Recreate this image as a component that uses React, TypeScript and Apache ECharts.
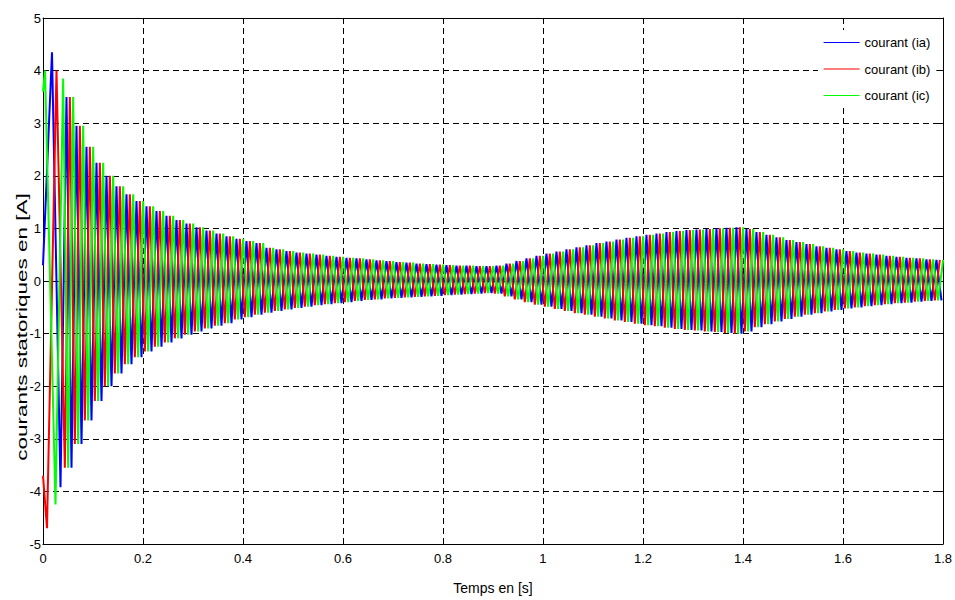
import React, { useEffect, useRef } from "react";
import * as echarts from "echarts";

// ---------- data ----------
const SERIES_NAMES = ["courant (ia)", "courant (ib)", "courant (ic)"];
const SERIES_COLORS = ["#0000ff", "#ff0000", "#00ff00"];

const X_TICKS = [0, 0.2, 0.4, 0.6, 0.8, 1, 1.2, 1.4, 1.6, 1.8];
const Y_TICKS = [-5, -4, -3, -2, -1, 0, 1, 2, 3, 4, 5];

// start-up transient extrema of each phase (time s, current A)
const iaStartTimes = [0, 0.018, 0.035];
const iaStartValues = [0.3, 4.35, -3.92];
const ibStartTimes = [0, 0.008, 0.027];
const ibStartValues = [-3.7, -4.7, 4.0];
const icStartTimes = [0, 0.004, 0.025, 0.0403];
const icStartValues = [3.6, 4.0, -4.25, 3.85];

// supply period (50 Hz) and first steady cycle start
const PERIOD = 0.02;
const CYCLE_START = 0.04;
// where, inside each cycle, each phase reaches its positive / negative peak (s)
const POS_PEAK_OFFSET = [0.007, 0.0137, 0.0203];
const NEG_PEAK_OFFSET = [0.017, 0.0037, 0.0103];

// positive peak of each 20 ms cycle (A), cycles centred at 0.05, 0.07, ... 1.79 s
const upperPeaks = [
  3.5, 2.95, 2.55, 2.25, 2.0, 1.8, 1.65, 1.52, 1.42, 1.33,
  1.24, 1.16, 1.09, 1.02, 0.96, 0.9, 0.85, 0.8, 0.76, 0.72,
  0.63, 0.6, 0.57, 0.54, 0.52, 0.5, 0.48, 0.46, 0.44, 0.43,
  0.41, 0.39, 0.38, 0.36, 0.35, 0.33, 0.32, 0.31, 0.3, 0.29,
  0.29, 0.28, 0.28, 0.29, 0.33, 0.38, 0.43, 0.48, 0.52, 0.56,
  0.6, 0.64, 0.68, 0.72, 0.75, 0.79, 0.82, 0.85, 0.88, 0.9,
  0.93, 0.95, 0.97, 0.98, 0.99, 1.0, 1.01, 1.02, 0.99, 0.93,
  0.88, 0.83, 0.78, 0.74, 0.7, 0.66, 0.63, 0.6, 0.57, 0.54,
  0.52, 0.5, 0.48, 0.46, 0.44, 0.43, 0.41, 0.4,
];
// negative peak of each cycle (A)
const lowerPeaks = [
  -3.55, -3.1, -2.65, -2.28, -2.0, -1.76, -1.58, -1.45, -1.34, -1.25,
  -1.17, -1.09, -1.02, -0.96, -0.9, -0.85, -0.8, -0.73, -0.69, -0.64,
  -0.6, -0.57, -0.54, -0.51, -0.49, -0.46, -0.44, -0.42, -0.4, -0.38,
  -0.36, -0.35, -0.33, -0.32, -0.31, -0.3, -0.29, -0.28, -0.27, -0.26,
  -0.25, -0.24, -0.23, -0.24, -0.29, -0.35, -0.4, -0.45, -0.49, -0.53,
  -0.57, -0.61, -0.64, -0.68, -0.71, -0.75, -0.78, -0.81, -0.84, -0.86,
  -0.89, -0.91, -0.93, -0.94, -0.96, -0.97, -0.99, -1.0, -0.96, -0.88,
  -0.82, -0.77, -0.72, -0.68, -0.64, -0.61, -0.58, -0.55, -0.52, -0.5,
  -0.48, -0.46, -0.44, -0.42, -0.41, -0.39, -0.38, -0.37,
];

const START_TIMES = [iaStartTimes, ibStartTimes, icStartTimes];
const START_VALUES = [iaStartValues, ibStartValues, icStartValues];

function buildPhase(p: number): [number, number][] {
  const pts: [number, number][] = START_TIMES[p].map((t, i) => [t, START_VALUES[p][i]] as [number, number]);
  for (let n = 0; n < upperPeaks.length; n++) {
    const base = CYCLE_START + n * PERIOD;
    const a: [number, number] = [base + POS_PEAK_OFFSET[p], upperPeaks[n]];
    const b: [number, number] = [base + NEG_PEAK_OFFSET[p], lowerPeaks[n]];
    if (a[0] < b[0]) pts.push(a, b);
    else pts.push(b, a);
  }
  return pts;
}

const FONT = "'Liberation Sans', Arial, sans-serif";

export default function App() {
  const ref = useRef<HTMLDivElement>(null);
  useEffect(() => {
    if (!ref.current) return;
    const chart = echarts.init(ref.current, null, { renderer: "svg" });
    const axisCommon = {
      axisLine: { show: true, onZero: false, lineStyle: { color: "#000", width: 1 } },
      axisTick: { show: true, inside: true, length: 5, lineStyle: { color: "#000" } },
    };
    const option: any = {
      animation: false,
      backgroundColor: "#fff",
      grid: { left: 43, right: 11, top: 18, bottom: 53 },
      legend: {
        data: SERIES_NAMES,
        orient: "vertical",
        left: 818,
        top: 30,
        itemWidth: 36,
        itemHeight: 14,
        itemGap: 13.5,
        padding: [6, 6, 6, 5],
        backgroundColor: "#fff",
        itemStyle: { opacity: 0 },
        lineStyle: { width: 1.2, opacity: 1 },
        textStyle: { fontSize: 13, color: "#000", fontFamily: FONT },
      },
      xAxis: [
        {
          type: "value",
          min: X_TICKS[0],
          max: X_TICKS[X_TICKS.length - 1],
          interval: 0.2,
          position: "bottom",
          ...axisCommon,
          axisLabel: { color: "#000", fontSize: 13, margin: 8, fontFamily: FONT },
          splitLine: { show: true, lineStyle: { type: [6, 4], color: "#000", width: 1 } },
          name: "Temps en [s]",
          nameLocation: "middle",
          nameGap: 44,
          nameTextStyle: { fontSize: 14, color: "#000", fontFamily: FONT, verticalAlign: "middle" },
        },
        {
          type: "value",
          min: X_TICKS[0],
          max: X_TICKS[X_TICKS.length - 1],
          interval: 0.2,
          position: "top",
          ...axisCommon,
          axisLabel: { show: false },
          splitLine: { show: false },
        },
      ],
      yAxis: [
        {
          type: "value",
          min: Y_TICKS[0],
          max: Y_TICKS[Y_TICKS.length - 1],
          interval: 1,
          position: "left",
          ...axisCommon,
          axisLabel: { color: "#000", fontSize: 13, margin: 2, fontFamily: FONT },
          splitLine: { show: true, lineStyle: { type: [6, 4], color: "#000", width: 1 } },
        },
        {
          type: "value",
          min: Y_TICKS[0],
          max: Y_TICKS[Y_TICKS.length - 1],
          interval: 1,
          position: "right",
          ...axisCommon,
          axisLabel: { show: false },
          splitLine: { show: false },
        },
      ],
      graphic: [
        {
          type: "text",
          x: 22,
          y: 327,
          rotation: Math.PI / 2,
          scaleX: 1.5,
          style: {
            text: "courants statoriques en [A]",
            fontSize: 15,
            fontFamily: FONT,
            fill: "#000",
            align: "center",
            verticalAlign: "middle",
          },
        },
      ],
      series: SERIES_NAMES.map((name, p) => ({
        name,
        type: "line",
        xAxisIndex: 0,
        yAxisIndex: 0,
        data: buildPhase(p),
        symbol: "none",
        showSymbol: false,
        clip: true,
        lineStyle: { color: SERIES_COLORS[p], width: 2 },
        itemStyle: { color: SERIES_COLORS[p] },
        z: 2 + p,
      })),
    };
    chart.setOption(option);
    return () => chart.dispose();
  }, []);
  return (
    <div
      ref={ref}
      style={{ position: "absolute", left: 0, top: 0, width: 955, height: 600, background: "#fff" }}
    />
  );
}
